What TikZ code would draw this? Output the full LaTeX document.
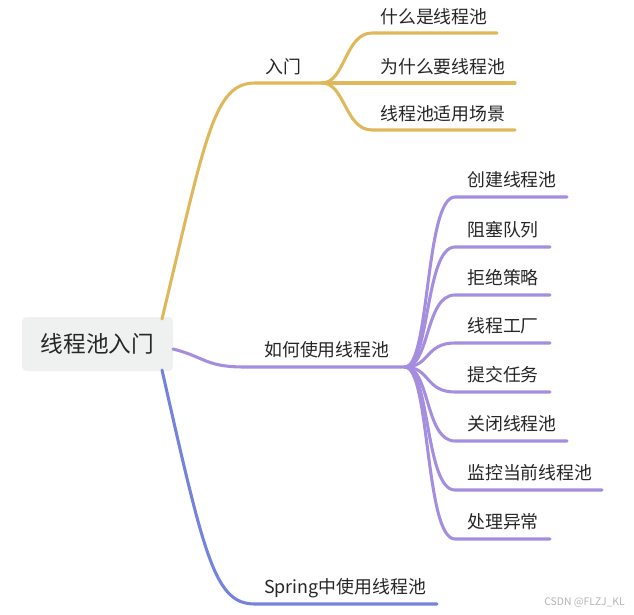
\documentclass[tikz,border=0pt]{standalone}
\usepackage{fontspec}
\setmainfont{Noto Sans CJK SC}
\usetikzlibrary{positioning}
\definecolor{gold}{HTML}{E0B85C}
\definecolor{lilac}{HTML}{A58DDF}
\definecolor{cobalt}{HTML}{7483DC}
\definecolor{rootbg}{HTML}{EFF0F0}
\definecolor{ink}{HTML}{262626}
\definecolor{wmgray}{HTML}{B4B4B4}

\begin{document}
\begin{tikzpicture}[
    x=0.75pt,y=-0.75pt,
    font=\fontsize{13.4}{16}\selectfont,
    rootbox/.style={fill=rootbg,rounded corners=3pt,text=ink,
        minimum width=113pt,minimum height=40.5pt,
        font=\fontsize{17}{20}\selectfont},
    topic/.style={anchor=west,inner sep=0pt,text=ink},
    branch/.style={line width=2.3pt,line cap=round},
  ]
  \useasboundingbox (0,0) rectangle (634,614);

  % ============================================================= ROOT
  \node[rootbox] (root) at (97.5,344) {线程池入门};
  \coordinate (rootY) at (162,319);   % exit to the intro branch
  \coordinate (rootP) at (173,349);   % exit to the usage branch
  \coordinate (rootB) at (162,370);   % exit to the spring branch

  % ============================================================= INTRO
  \coordinate (introL) at (255,83);
  \coordinate (hubY) at (322,83);
  \node[topic] (intro) at (265,67) {入门};
  \draw[branch,gold] (rootY) .. controls (206,135) and (214,83) .. (introL)
    -- (hubY);
  \foreach \name/\y/\x/\txt in {
      whatis/33/497/什么是线程池, why/83/515/为什么要线程池,
      scene/130/515/线程池适用场景}{
    \node[topic] (\name) at (380,\y-16.5) {\txt};
    \coordinate (\name end) at (\x,\y);
    \draw[branch,gold] (hubY) .. controls (345,83) and (345,\y) .. (372,\y)
      -- (\name end);
  }

  % ============================================================= USAGE
  \coordinate (usageL) at (245,367);
  \coordinate (hubP) at (405,367);
  \node[topic] (usage) at (264,350) {如何使用线程池};
  \draw[branch,lilac] (rootP) .. controls (205,357) and (205,367) .. (usageL)
    -- (hubP);
  \foreach \name/\y/\x/\txt in {
      create/197/567/创建线程池, queue/247/550/阻塞队列,
      reject/295/550/拒绝策略, factory/343/550/线程工厂,
      submit/392/550/提交任务, shutdown/441/567/关闭线程池,
      monitor/490/602/监控当前线程池, error/539/550/处理异常}{
    \node[topic] (\name) at (467,\y-17) {\txt};
    \coordinate (\name end) at (\x,\y);
    \draw[branch,lilac] (hubP) .. controls (430,367) and (425,\y) .. (455,\y)
      -- (\name end);
  }

  % ============================================================= SPRING
  \coordinate (springL) at (255,604);
  \coordinate (springend) at (437,604);
  \node[topic] (spring) at (264,588) {Spring中使用线程池};
  \draw[branch,cobalt] (rootB) .. controls (205,560) and (215,604) .. (springL)
    -- (springend);

  % watermark
  \node[wmgray,font=\fontsize{7.8}{9}\selectfont,anchor=east,inner sep=0pt]
    (wm) at (625,603) {CSDN @FLZJ\_KL};
\end{tikzpicture}
\end{document}
